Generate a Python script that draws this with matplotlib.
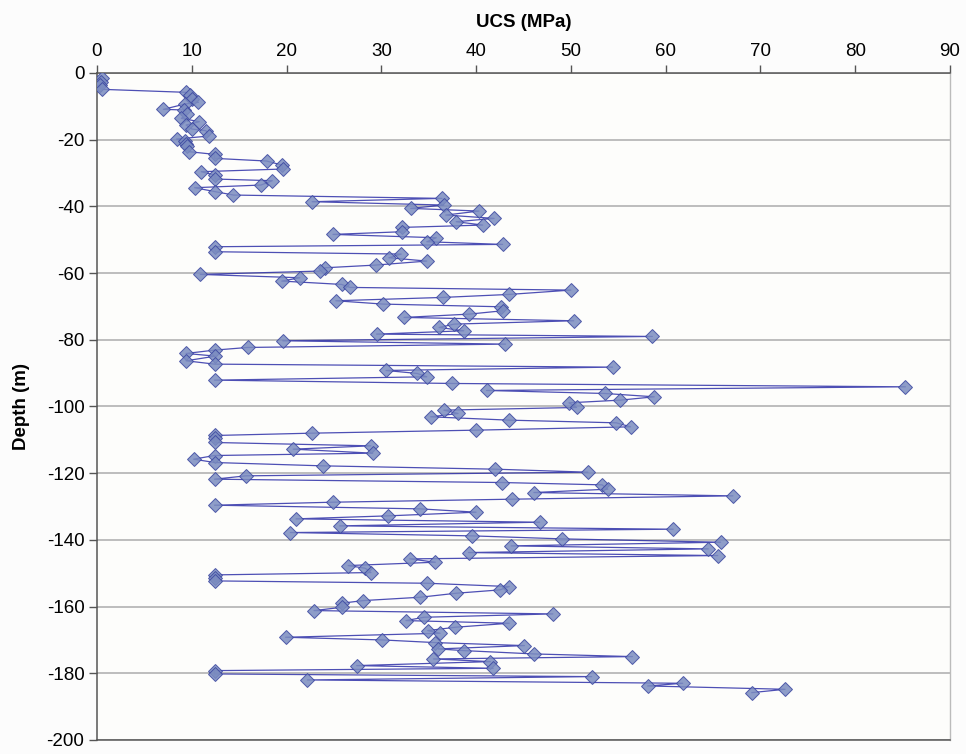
import matplotlib
matplotlib.use("Agg")
import matplotlib.pyplot as plt

# UCS readings down the borehole, in logging order
ucs = [0.5, 0.4, 0.3, 0.5, 9.4, 9.8, 10.0, 10.7, 9.3, 7.0, 9.2, 9.5, 8.9, 10.8,
       9.4, 10.0, 11.5, 11.8, 8.4, 9.3, 9.4, 9.5, 9.7, 12.4, 12.4, 17.9, 19.5,
       19.6, 11.0, 12.4, 12.5, 18.5, 17.3, 10.3, 12.5, 14.4, 36.4, 22.7, 36.6,
       33.1, 40.3, 36.8, 41.9, 37.9, 40.7, 32.2, 32.2, 24.9, 35.8, 34.8, 42.8,
       12.4, 12.5, 32.1, 30.8, 34.8, 29.4, 24.1, 23.5, 10.9, 21.4, 19.5, 25.8,
       26.7, 50.0, 43.5, 36.5, 25.2, 30.2, 42.6, 42.8, 39.3, 32.4, 50.3, 37.7,
       36.1, 38.7, 29.5, 58.6, 19.6, 43.1, 15.9, 12.4, 9.4, 12.5, 9.4, 12.4,
       54.4, 30.5, 33.8, 34.8, 12.4, 37.5, 85.3, 41.1, 53.6, 58.8, 55.2, 49.8,
       50.6, 36.6, 38.1, 35.2, 43.5, 54.8, 56.3, 40.0, 22.7, 12.4, 12.4, 12.4,
       28.9, 20.7, 29.1, 12.4, 10.2, 12.4, 23.8, 42.0, 51.8, 15.7, 12.4, 42.7,
       53.3, 53.9, 46.1, 67.1, 43.8, 24.9, 12.4, 34.1, 40.0, 30.7, 21.0, 46.7,
       25.6, 60.8, 20.4, 39.6, 49.1, 65.8, 43.7, 64.5, 39.2, 65.5, 33.0, 35.7,
       26.5, 28.3, 28.9, 12.4, 12.4, 12.4, 34.8, 43.5, 42.5, 37.9, 34.1, 28.1,
       25.8, 25.9, 22.9, 48.1, 34.5, 32.6, 43.5, 37.8, 34.9, 36.2, 19.9, 30.1,
       35.7, 45.1, 36.0, 38.7, 46.1, 56.5, 35.5, 41.5, 27.4, 41.8, 12.4, 12.4,
       52.2, 22.2, 61.8, 58.1, 72.6, 69.1]

depth = [-1.5, -2.6, -3.6, -4.9, -5.8, -6.6, -7.9, -8.8, -9.3, -10.9, -11.1,
         -12.4, -13.6, -14.6, -15.6, -16.8, -17.3, -18.9, -19.8, -20.5, -21.3,
         -21.9, -23.6, -24.4, -25.6, -26.4, -27.6, -28.8, -29.6, -30.6, -31.8,
         -32.3, -33.6, -34.4, -35.6, -36.6, -37.6, -38.6, -39.6, -40.6, -41.4,
         -42.6, -43.6, -44.6, -45.6, -46.3, -47.6, -48.4, -49.4, -50.6, -51.4,
         -52.1, -53.6, -54.3, -55.4, -56.4, -57.6, -58.4, -59.4, -60.4, -61.4,
         -62.4, -63.4, -64.3, -65.1, -66.4, -67.3, -68.3, -69.3, -70.1, -71.3,
         -72.3, -73.3, -74.3, -75.3, -76.3, -77.3, -78.3, -79.0, -80.3, -81.3,
         -82.3, -83.1, -84.1, -84.9, -86.3, -87.3, -88.2, -89.2, -90.1, -91.1,
         -92.1, -93.1, -94.1, -95.2, -96.1, -97.1, -98.1, -98.9, -100.3, -101.1,
         -102.1, -103.1, -104.1, -104.9, -106.1, -107.1, -108.0, -108.7, -109.6,
         -110.8, -111.8, -112.8, -114.0, -114.7, -115.8, -116.8, -117.8, -118.8,
         -119.7, -120.8, -121.8, -122.8, -123.5, -124.8, -125.8, -126.8, -127.8,
         -128.7, -129.6, -130.7, -131.7, -132.8, -133.7, -134.7, -135.8, -136.8,
         -137.8, -138.8, -139.7, -140.7, -141.8, -142.7, -143.8, -144.7, -145.7,
         -146.7, -147.7, -148.5, -149.8, -150.5, -151.5, -152.3, -153.0, -154.0,
         -155.0, -156.0, -157.2, -158.2, -159.0, -160.2, -161.2, -162.2, -163.2,
         -164.2, -165.0, -166.2, -167.2, -168.0, -169.2, -170.0, -170.8, -171.7,
         -172.7, -173.2, -174.2, -175.0, -175.7, -176.5, -177.7, -178.5, -179.2,
         -180.2, -181.0, -182.0, -183.0, -183.8, -184.8, -185.8]

xticks = list(range(0, 91, 10))
yticks = list(range(0, -201, -20))

plt.rcParams["font.family"] = ["Liberation Sans", "DejaVu Sans"]
plt.rcParams["axes.unicode_minus"] = False

fig = plt.figure(figsize=(9.66, 7.54), dpi=100)
fig.patch.set_facecolor("#fcfcfc")
ax = fig.add_axes([0.1004, 0.0186, 0.8830, 0.8846])
ax.set_facecolor("#fdfdfb")

ax.plot(ucs, depth, color="#2e30a8", lw=0.9, alpha=0.85,
        marker="D", markersize=7, markerfacecolor="#7b8cc0",
        markeredgecolor="#3a46a0", markeredgewidth=0.7, zorder=3)

ax.set_xlim(0, 90)
ax.set_ylim(-200, 0)
ax.set_xticks(xticks)
ax.set_yticks(yticks)
ax.xaxis.tick_top()
ax.xaxis.set_label_position("top")
ax.set_xlabel("UCS (MPa)", fontsize=13.5, fontweight="bold", labelpad=12)
ax.set_ylabel("Depth (m)", fontsize=13.5, fontweight="bold", labelpad=12)
ax.tick_params(axis="both", labelsize=13.5, direction="out", length=6,
               width=1, color="#555555", pad=3)
ax.tick_params(axis="x", top=True, bottom=False)

ax.yaxis.grid(True, color="#b8b8b8", lw=1.3, zorder=0)
ax.set_axisbelow(True)

for side in ("left", "top", "bottom"):
    ax.spines[side].set_color("#555555")
    ax.spines[side].set_linewidth(1.1)
ax.spines["right"].set_color("#bbbbbb")
ax.spines["right"].set_linewidth(1.0)

fig.savefig("out.png", dpi=100, facecolor=fig.get_facecolor())
